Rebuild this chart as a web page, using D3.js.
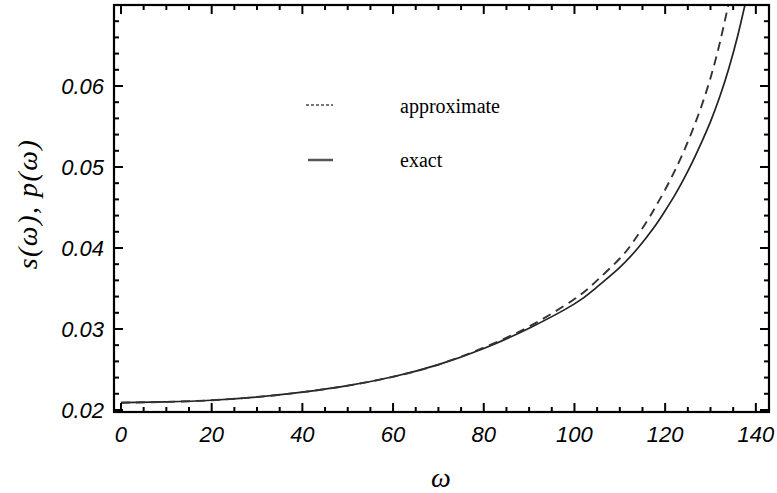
<!DOCTYPE html>
<html>
<head>
<meta charset="UTF-8">
<script src="https://cdn.jsdelivr.net/npm/d3@7"></script>
<style>
  body { margin: 0; background: #fff; }
  svg { display: block; }
</style>
</head>
<body>
<script>
// exact curve s(w)
var omegaExact = [0, 10, 20, 30, 40, 50, 60, 70, 80, 90, 100, 105, 110, 114, 116, 118, 120, 122, 124, 126, 128, 130, 132, 134, 136, 138];
var exactVals = [0.0209, 0.0210, 0.0212, 0.0216, 0.0222, 0.0230, 0.0241, 0.0256, 0.0276, 0.0301, 0.0331, 0.0352, 0.0376, 0.0400, 0.0414, 0.0429, 0.0446, 0.0464, 0.0484, 0.0506, 0.0530, 0.0556, 0.0586, 0.0621, 0.0662, 0.0710];
// approximate curve p(w)
var omegaApprox = [0, 10, 20, 30, 40, 50, 60, 70, 80, 90, 100, 105, 110, 113, 116, 118, 120, 122, 124, 126, 128, 130, 132, 134];
var approxVals = [0.0209, 0.0210, 0.0212, 0.0216, 0.0222, 0.0230, 0.0241, 0.0256, 0.0277, 0.0303, 0.0337, 0.0360, 0.0387, 0.0408, 0.0433, 0.0452, 0.0472, 0.0494, 0.0518, 0.0545, 0.0575, 0.0610, 0.0652, 0.0702];

var xTicks = [0, 20, 40, 60, 80, 100, 120, 140];
var yTicks = [0.02, 0.03, 0.04, 0.05, 0.06];
var legendLabels = ["approximate", "exact"];

var W = 777, H = 493;
var pL = 114, pR = 769, pT = 5, pB = 412;

var svg = d3.select("body").append("svg")
  .attr("width", W)
  .attr("height", H);

var x = d3.scaleLinear().domain([-1.54, 142.9]).range([pL, pR]);
var y = d3.scaleLinear().domain([0.01975, 0.0700]).range([pB, pT]);

svg.append("defs").append("clipPath").attr("id", "plotclip")
  .append("rect")
  .attr("x", pL).attr("y", pT)
  .attr("width", pR - pL).attr("height", pB - pT);

// curves
var line = d3.line()
  .x(function (d) { return x(d[0]); })
  .y(function (d) { return y(d[1]); })
  .curve(d3.curveNatural);

var g = svg.append("g").attr("clip-path", "url(#plotclip)");

g.append("path")
  .datum(d3.zip(omegaExact, exactVals))
  .attr("d", line)
  .attr("fill", "none")
  .attr("stroke", "#222")
  .attr("stroke-width", 1.7);

g.append("path")
  .datum(d3.zip(omegaApprox, approxVals))
  .attr("d", line)
  .attr("fill", "none")
  .attr("stroke", "#333")
  .attr("stroke-width", 1.9)
  .attr("stroke-dasharray", "9,6");

// ticks (inward on all four sides)
var xMinor = d3.range(0, 143, 5);
var yMinor = d3.range(0.020, 0.0701, 0.002);

function isMajorX(v) { return v % 20 === 0; }
function isMajorY(v) { return Math.abs(v * 100 - Math.round(v * 100)) < 1e-6; }

var tk = svg.append("g").attr("stroke", "#000").attr("stroke-width", 2);

xMinor.forEach(function (v) {
  var len = isMajorX(v) ? 9 : 5;
  tk.append("line").attr("x1", x(v)).attr("x2", x(v)).attr("y1", pB).attr("y2", pB - len);
  tk.append("line").attr("x1", x(v)).attr("x2", x(v)).attr("y1", pT).attr("y2", pT + len);
});
yMinor.forEach(function (v) {
  var len = isMajorY(v) ? 9 : 5;
  tk.append("line").attr("y1", y(v)).attr("y2", y(v)).attr("x1", pL).attr("x2", pL + len);
  tk.append("line").attr("y1", y(v)).attr("y2", y(v)).attr("x1", pR).attr("x2", pR - len);
});

// frame
svg.append("rect")
  .attr("x", pL).attr("y", pT)
  .attr("width", pR - pL).attr("height", pB - pT)
  .attr("fill", "none")
  .attr("stroke", "#000")
  .attr("stroke-width", 2.2);

// tick labels
var lab = svg.append("g")
  .attr("font-family", "Liberation Sans, Arial, sans-serif")
  .attr("font-style", "italic")
  .attr("font-size", 22)
  .attr("fill", "#000");

lab.selectAll(".xl").data(xTicks).enter().append("text")
  .attr("x", function (d) { return x(d); })
  .attr("y", 442)
  .attr("text-anchor", "middle")
  .text(function (d) { return d; });

lab.selectAll(".yl").data(yTicks).enter().append("text")
  .attr("x", 104)
  .attr("y", function (d) { return y(d) + 8; })
  .attr("text-anchor", "end")
  .text(function (d) { return d3.format(".2f")(d); });

// axis titles
svg.append("text")
  .attr("x", 441).attr("y", 487)
  .attr("text-anchor", "middle")
  .attr("font-family", "Liberation Serif, Times New Roman, serif")
  .attr("font-style", "italic")
  .attr("font-size", 28)
  .text("ω");

svg.append("text")
  .attr("transform", "translate(37,204) rotate(-90)")
  .attr("text-anchor", "middle")
  .attr("font-family", "Liberation Serif, Times New Roman, serif")
  .attr("font-style", "italic")
  .attr("font-size", 28)
  .attr("letter-spacing", 1.5)
  .text("s(ω),  p(ω)");

// legend
var leg = svg.append("g");
leg.append("line")
  .attr("x1", 306).attr("x2", 333).attr("y1", 105).attr("y2", 105)
  .attr("stroke", "#777").attr("stroke-width", 2)
  .attr("stroke-dasharray", "3,2");
leg.append("line")
  .attr("x1", 308).attr("x2", 333).attr("y1", 160).attr("y2", 160)
  .attr("stroke", "#555").attr("stroke-width", 2.5);

leg.selectAll("text").data(legendLabels).enter().append("text")
  .attr("x", 400)
  .attr("y", function (d, i) { return 113 + i * 54; })
  .attr("font-family", "Liberation Serif, Times New Roman, serif")
  .attr("font-size", 20)
  .text(function (d) { return d; });
</script>
</body>
</html>
